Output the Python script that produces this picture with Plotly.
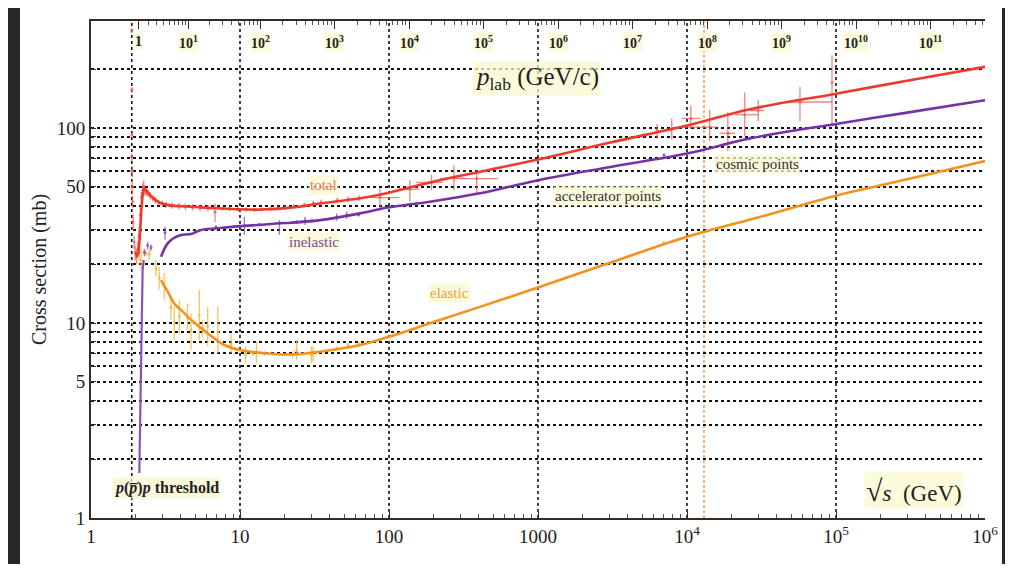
import math
import plotly.graph_objects as go

# ---------------- data (sqrt(s) in GeV, cross section in mb) ----------------
total_fit_x = [2.0, 2.04, 2.08, 2.12, 2.16, 2.2, 2.24, 2.28, 2.35, 2.45, 2.6, 2.8, 3.0, 3.5, 4.0, 4.7, 5.5,
               7.0, 10, 14, 18.5, 25, 34, 64, 100, 188, 408, 1000, 3000, 10000, 26500, 100000, 300000, 1000000]
total_fit_y = [23, 22, 23, 27, 34, 42, 47, 49, 48, 46, 44, 42, 41, 40, 39.7, 39.5, 39.2,
               38.8, 38.3, 38.2, 38.6, 39.5, 41, 43.6, 46.6, 52.6, 59.7, 69, 84, 103, 125, 150, 175, 206]

inel_fit_x = [2.95, 3.27, 3.6, 4.02, 4.7, 5.47, 7, 10, 14, 18.5, 22, 34.4, 64, 100, 188, 408, 1000,
              3000, 10000, 26500, 100000, 300000, 1000000]
inel_fit_y = [21.9, 25.6, 27.3, 28.3, 28.6, 30, 30.6, 31.4, 31.9, 32.5, 32.7, 33.7, 36.5, 39.2, 41.9, 46.3, 54,
              63, 74, 88.5, 105, 120, 139]

el_fit_x = [2.95, 3.3, 3.62, 4.1, 4.69, 6.07, 7.85, 10, 14.6, 22, 34.4, 64, 100, 188, 408, 1000, 3000,
            10000, 30800, 100000, 300000, 1000000]
el_fit_y = [16.6, 14.3, 12.6, 11.5, 10.4, 8.85, 7.71, 7.27, 7.0, 6.9, 7.13, 7.71, 8.5, 9.96, 12.1, 15.2, 20.3,
            27.7, 35, 45, 54.6, 67.7]

# inelastic threshold rise
inel_spike_x = [2.11, 2.13, 2.14, 2.16, 2.19, 2.22, 2.26]
inel_spike_y = [1.7, 2.8, 3.9, 6.5, 12, 18.7, 21]

# accelerator data, total
red_x = [1.878, 1.879, 1.880, 1.881, 1.885, 1.89, 1.90, 1.92, 1.95, 1.98, 2.02, 2.06, 2.10, 2.14, 2.18, 2.22,
         2.26, 2.30, 2.35, 2.42, 2.5, 2.6, 2.7, 2.85, 3.0, 3.2, 3.5, 3.9, 4.3, 4.8, 5.4, 6.1, 6.8, 7.6, 8.5,
         9.7, 11, 12.5, 14, 16, 18, 20, 23, 27, 31, 35, 45, 53, 63]
red_y = [315, 157, 92, 71, 60, 50, 42, 33, 26, 23, 22, 24, 28, 36, 44, 48,
         50, 48, 47, 46, 45, 43.5, 42.5, 41.5, 41, 40.5, 40, 39.8, 39.5, 39.3, 39, 38.9, 37, 38.6, 38.5,
         38.3, 38.2, 38.1, 38.3, 38.5, 38.8, 39, 39.7, 40.3, 41, 41.5, 42.5, 43, 43.7]
red_err = [8, 5, 3, 3, 4, 4, 3, 3, 2, 2, 2, 2, 3, 3, 3, 4,
           4, 3, 2, 2, 2, 1.5, 1.5, 1.5, 1.5, 1.5, 1.5, 1.5, 1.5, 1.5, 1.5, 1.5, 4, 1, 1,
           1, 1, 1, 1, 1, 1, 1, 1, 1, 1.5, 1.5, 1.5, 1.5, 1.5]

# total with horizontal bars (cosmic & others)
redx_x = [87, 138, 193, 273, 388, 6300, 7900, 10600, 14200, 18800, 24400, 30100, 57300, 94000]
redx_y = [44, 48.5, 52.6, 55.2, 55, 97, 99, 112, 101, 94, 117, 123, 136, 171]
redx_lo = [38.5, 42, 48, 48, 46.3, 88, 87, 99, 86, 76, 91, 108, 108, 103]
redx_hi = [49, 54, 57.5, 64.5, 60.8, 105, 112, 130, 124, 121, 152, 139, 163, 236]
redx_xlo = [74, 115, 153, 220, 300, 6300, 7900, 9200, 9500, 16500, 21000, 26500, 46800, 94000]
redx_xhi = [118, 160, 230, 330, 540, 6300, 7900, 12300, 15800, 21000, 30000, 33000, 94700, 94000]

# inelastic data
pur_x = [2.28, 2.4, 2.53, 3.14, 5.04, 6.9, 10.7, 13.5, 18.4, 24, 27.3, 30.4, 44.6, 52, 62.4, 7000]
pur_y = [23, 25, 24.4, 29, 29.5, 31, 31.5, 32, 32.5, 33, 33.5, 33.5, 35, 35.8, 35.8, 72.7]
pur_lo = [22, 24, 23.5, 26.7, 28.8, 30.3, 28.3, 31.5, 28.3, 32.3, 31.8, 32.8, 33.5, 34.3, 35.3, 71]
pur_hi = [24, 26, 25.3, 31.2, 30.2, 31.8, 35.1, 32.5, 33.7, 33.7, 35.1, 34.3, 36.5, 37.3, 36.3, 74]

# elastic data
or_x = [2.1, 2.17, 2.34, 2.46, 2.73, 2.87, 3.1, 3.44, 3.62, 3.92, 4.45, 4.69, 5.33, 5.6, 6.07, 7.1, 8.7,
        10.9, 12.2, 12.9, 14.6, 22.7, 24, 30.2, 31, 44.6, 53, 62.4, 7000, 8000]
or_y = [23, 21, 22.8, 22.5, 19, 17, 15.5, 12, 10, 10.8, 10.6, 9.2, 11, 9.4, 9.6, 9, 7.8,
        6.9, 7.0, 7.1, 7.0, 6.9, 7.2, 6.9, 7.0, 7.4, 7.7, 7.8, 25.8, 26.3]
or_lo = [21, 18.7, 22, 21, 17.3, 14.8, 13.1, 10.4, 8.2, 8.8, 9.2, 7.3, 8.2, 8.5, 7.6, 7.0, 7.0,
         6.2, 6.8, 6.2, 6.8, 6.6, 6.5, 6.2, 6.35, 7.2, 7.5, 7.6, 25.3, 25.8]
or_hi = [25.6, 24, 23.6, 24, 21, 19.4, 18, 13.6, 12.1, 13.1, 12.6, 11.2, 14.8, 10.4, 12.1, 12.1, 8.8,
         7.6, 7.2, 8.0, 7.2, 7.2, 8.2, 7.6, 7.6, 7.6, 7.9, 8.0, 26.3, 26.8]

# axes
x_tickvals = [1, 10, 100, 1000, 1e4, 1e5, 1e6]
x_ticktext = ["1", "10", "100", "1000", "10<sup>4</sup>", "10<sup>5</sup>", "10<sup>6</sup>"]
y_tickvals = [1, 5, 10, 50, 100]
y_ticktext = ["1", "5", "10", "50", "100"]
y_gridvals = [2, 3, 4, 5, 6, 7, 8, 9, 10, 20, 30, 40, 50, 60, 70, 80, 90, 100, 200]
x_grid = [1.877, 10, 100, 1000, 1e4, 1e5]
lhc_energy = 13000
plab_exp = list(range(0, 12))
plab_text = ["1"] + ["10<sup>%d</sup>" % n for n in range(1, 12)]

M_P = 0.938272


def plab_to_sqrts(p):
    e = math.sqrt(p * p + M_P * M_P)
    return math.sqrt(2 * M_P * M_P + 2 * M_P * e)


# ---------------- figure ----------------
RED, RED_D = "#ee3a2c", "rgba(240,90,80,0.75)"
PUR, PUR_D = "#7432a6", "rgba(130,80,180,0.8)"
ORA, ORA_D = "#f5921e", "rgba(246,185,60,0.85)"
SERIF = "Liberation Serif, Times New Roman, serif"
AX = "#3a2a22"

fig = go.Figure()


def asym(y, lo, hi):
    return [h - v for v, h in zip(y, hi)], [v - l for v, l in zip(y, lo)]


up, dn = asym(or_y, or_lo, or_hi)
fig.add_trace(go.Scatter(x=or_x, y=or_y, mode="markers", marker=dict(size=3, color=ORA_D),
                         error_y=dict(type="data", symmetric=False, array=up, arrayminus=dn,
                                      color=ORA_D, thickness=1.3, width=0),
                         showlegend=False, hoverinfo="skip"))
up, dn = asym(pur_y, pur_lo, pur_hi)
fig.add_trace(go.Scatter(x=pur_x, y=pur_y, mode="markers", marker=dict(size=3, color=PUR_D),
                         error_y=dict(type="data", symmetric=False, array=up, arrayminus=dn,
                                      color=PUR_D, thickness=1.3, width=0),
                         showlegend=False, hoverinfo="skip"))
fig.add_trace(go.Scatter(x=red_x, y=red_y, mode="markers", marker=dict(size=3, color=RED_D),
                         error_y=dict(type="data", array=red_err, color=RED_D, thickness=1.3, width=0),
                         showlegend=False, hoverinfo="skip"))
up, dn = asym(redx_y, redx_lo, redx_hi)
xup = [h - v for v, h in zip(redx_x, redx_xhi)]
xdn = [v - l for v, l in zip(redx_x, redx_xlo)]
fig.add_trace(go.Scatter(x=redx_x, y=redx_y, mode="markers", marker=dict(size=3, color=RED_D),
                         error_y=dict(type="data", symmetric=False, array=up, arrayminus=dn,
                                      color=RED_D, thickness=1.3, width=0),
                         error_x=dict(type="data", symmetric=False, array=xup, arrayminus=xdn,
                                      color=RED_D, thickness=1.3, width=0),
                         showlegend=False, hoverinfo="skip"))

# fitted curves
fig.add_trace(go.Scatter(x=el_fit_x, y=el_fit_y, mode="lines", line=dict(color=ORA, width=2.6, shape="spline"),
                         showlegend=False, hoverinfo="skip"))
fig.add_trace(go.Scatter(x=inel_fit_x, y=inel_fit_y, mode="lines", line=dict(color=PUR, width=2.6, shape="spline"),
                         showlegend=False, hoverinfo="skip"))
fig.add_trace(go.Scatter(x=inel_spike_x, y=inel_spike_y, mode="lines", line=dict(color="#8a50c0", width=2.2),
                         showlegend=False, hoverinfo="skip"))
fig.add_trace(go.Scatter(x=total_fit_x, y=total_fit_y, mode="lines", line=dict(color=RED, width=2.6, shape="spline"),
                         showlegend=False, hoverinfo="skip"))

# invisible trace for top axis
fig.add_trace(go.Scatter(x=[10], y=[10], xaxis="x2", mode="markers", marker=dict(opacity=0),
                         showlegend=False, hoverinfo="skip"))

# ---------------- axes ----------------
# page body has an 8px margin: figure starts at (8, 8) in the window
minor_x = [k * 10 ** n for n in range(0, 6) for k in range(2, 10)]
fig.update_layout(
    width=1005, height=556,
    margin=dict(l=83, r=28, t=13, b=46),
    paper_bgcolor="#282828",
    plot_bgcolor="white",
    xaxis=dict(type="log", range=[0, 6], tickvals=x_tickvals, ticktext=x_ticktext,
               showgrid=False, zeroline=False, showline=True, linecolor=AX, linewidth=2,
               ticks="inside", ticklen=6, tickcolor=AX,
               minor=dict(tickvals=minor_x, ticks="inside", ticklen=4, tickcolor="#555", showgrid=False),
               tickfont=dict(family=SERIF, size=19, color="#222"), fixedrange=True),
    yaxis=dict(type="log", range=[0, 2.549], tickvals=y_tickvals, ticktext=y_ticktext,
               showgrid=False, zeroline=False, showline=True, linecolor=AX, linewidth=2,
               ticks="inside", ticklen=5, tickcolor=AX,
               minor=dict(tickvals=y_gridvals, ticks="inside", ticklen=5, tickcolor=AX,
                          showgrid=True, gridcolor="#111", gridwidth=1.6, griddash="3px,3px"),
               tickfont=dict(family=SERIF, size=19, color="#222"), fixedrange=True),
    xaxis2=dict(type="log", range=[0, 6], overlaying="x", side="top", anchor="y",
                tickvals=[plab_to_sqrts(10.0 ** n) for n in plab_exp], showticklabels=False,
                ticks="inside", ticklen=8, tickcolor="#333", tickwidth=1,
                minor=dict(tickvals=[plab_to_sqrts(k * 10.0 ** n) for n in range(0, 12) for k in range(2, 10)
                                     if plab_to_sqrts(k * 10.0 ** n) < 1e6],
                           ticks="inside", ticklen=4, tickcolor="#555", tickwidth=1),
                showgrid=False, zeroline=False, showline=True, linecolor=AX, linewidth=2,
                fixedrange=True),
)

# white panel behind everything
fig.add_shape(type="rect", xref="paper", yref="paper", x0=-0.0794, x1=1.019, y0=-0.2, y1=1.032,
              fillcolor="white", line=dict(width=0), layer="below")

# vertical grid lines
for gx in x_grid:
    fig.add_shape(type="line", xref="x", yref="paper", x0=gx, x1=gx, y0=0, y1=1,
                  line=dict(color="#111", width=1.6, dash="3px,3px"), layer="below")
fig.add_shape(type="line", xref="x", yref="paper", x0=lhc_energy, x1=lhc_energy, y0=0, y1=1,
              line=dict(color="rgba(245,150,70,0.9)", width=1.6, dash="3px,2px"), layer="below")

# top p_lab tick labels
HL = "rgba(250,248,205,0.75)"
for n, t in zip(plab_exp, plab_text):
    fig.add_annotation(x=math.log10(plab_to_sqrts(10.0 ** n)), y=0.958, xref="x", yref="paper",
                       xanchor="center", yanchor="middle",
                       text="<b>%s</b>" % t, showarrow=False, bgcolor=HL, borderpad=0,
                       font=dict(family=SERIF, size=14, color="#222"))

ann = [
    ("<i>p</i><sub>lab</sub> (GeV/c)", 0.499, 0.885, 25, "#222"),
    ("<span style='font-size:30px'>√</span><i>s</i>  (GeV)", 0.921, 0.056, 23, "#222"),
    ("total", 0.260, 0.670, 15, "#f07a5a"),
    ("inelastic", 0.249, 0.555, 15, "#7a4a9a"),
    ("elastic", 0.401, 0.452, 15, "#f0a030"),
    ("accelerator points", 0.578, 0.648, 15, "#333"),
    ("cosmic points", 0.746, 0.712, 15, "#333"),
    ("<b><i>p</i>(<i>p̅</i>)<i>p</i> threshold</b>", 0.084, 0.060, 16, "#222"),
]
for text, x, y, s, c in ann:
    fig.add_annotation(x=x, y=y, xref="paper", yref="paper", text=text, showarrow=False,
                       xanchor="center", yanchor="middle",
                       bgcolor=HL, borderpad=1, font=dict(family=SERIF, size=s, color=c))

fig.add_annotation(x=-0.057, y=0.499, xref="paper", yref="paper", text="Cross section (mb)",
                   xanchor="center", yanchor="middle",
                   textangle=-90, showarrow=False, font=dict(family=SERIF, size=20, color="#222"))

fig.write_html("out.html")
